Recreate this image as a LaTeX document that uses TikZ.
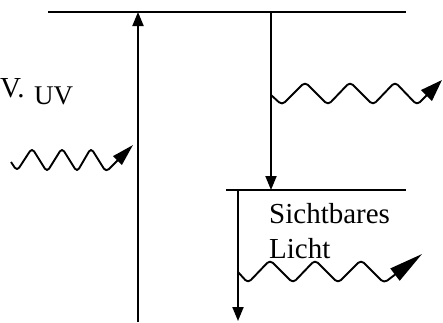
\documentclass[tikz,border=0pt]{standalone}
\usepackage{fontspec}
\setmainfont{Liberation Serif}
\usetikzlibrary{arrows.meta}
\begin{document}
\begin{tikzpicture}[x=1pt,y=-1pt,
  line/.style={line width=1.9pt, black},
  vhead/.style={-{Triangle[length=14pt,width=11pt]}},
  wave/.style={line width=1.9pt, rounded corners=4pt, line join=round},
  lbl/.style={anchor=base west, inner sep=0pt, font=\fontsize{27}{30}\selectfont},
  big/.style={font=\fontsize{29}{33}\selectfont}]
\useasboundingbox (0,0) rectangle (443,322);
% levels
\coordinate (t1) at (48,12); \coordinate (t2) at (406,12);
\draw[line] (t1) -- (t2);
\coordinate (l1) at (226,190); \coordinate (l2) at (406,190);
\draw[line] (l1) -- (l2);
% vertical arrows
\coordinate (up0) at (138,322); \coordinate (up1) at (138,12);
\draw[line, vhead] (up0) -- (up1);
\coordinate (d0) at (271,12); \coordinate (d1) at (271,190);
\draw[line, vhead] (d0) -- (d1);
\coordinate (e0) at (238,190); \coordinate (e1) at (238,321);
\draw[line, vhead] (e0) -- (e1);
% wavy arrows
\coordinate (w1s) at (11,162); \coordinate (w1e) at (133,145);
\draw[wave, -{Triangle[length=22pt,width=12pt]}] (w1s) -- (17,171) -- (32,148) -- (47,172) -- (62,148) -- (77,172) -- (91,148) -- (106,172) -- (w1e);
\coordinate (w2s) at (271,95); \coordinate (w2e) at (442,80);
\draw[wave, -{Triangle[length=22pt,width=15pt]}] (w2s) -- (282,105) -- (305,82) -- (328,105) -- (350,82) -- (373,105) -- (395,82) -- (417,105) -- (w2e);
\coordinate (w3s) at (238,272); \coordinate (w3e) at (422,254);
\draw[wave, -{Triangle[length=34pt,width=15pt]}] (w3s) -- (248,283) -- (270,260) -- (293,283) -- (315,260) -- (338,283) -- (361,260) -- (384,283) -- (w3e);
% labels
\node[lbl] (uv) at (34,104) {UV};
\node[lbl, font=\fontsize{29}{33}\selectfont] (v) at (0,97) {V.};
\node[lbl, big] (s) at (269,223) {Sichtbares};
\node[lbl, big] (li) at (269,258) {Licht};
\end{tikzpicture}
\end{document}
